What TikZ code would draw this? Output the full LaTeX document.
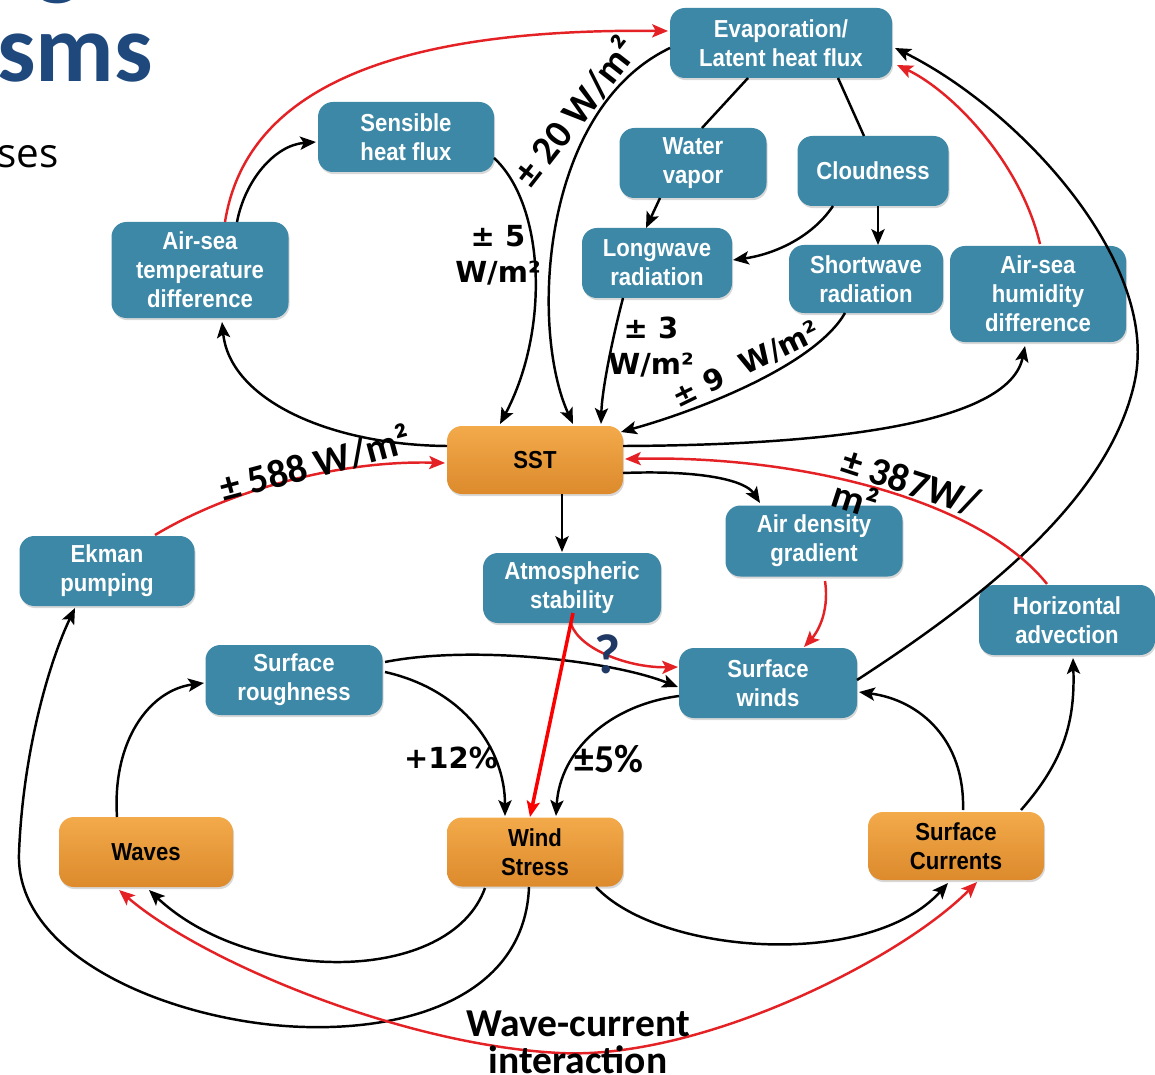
\documentclass[tikz,border=0pt]{standalone}
\usepackage{fontspec}
\usetikzlibrary{arrows.meta,calc,shadows}
\newfontfamily\boxfont[FakeStretch=0.9]{Liberation Sans}
\newfontfamily\dvfont{DejaVu Sans}
\newfontfamily\cbfont{Carlito}
\newfontfamily\osfont{Open Sans}
\newcommand{\boxtext}{\boxfont\bfseries\fontsize{14}{16.4}\selectfont}
\newcommand{\dvlabel}{\dvfont\bfseries\fontsize{16.5}{20.4}\selectfont}
\newcommand{\cblabel}{\cbfont\bfseries\fontsize{22.5}{18.5}\selectfont}
\definecolor{boxblue}{RGB}{60,136,166}
\definecolor{edgered}{RGB}{228,34,38}
\definecolor{pured}{RGB}{250,0,0}
\definecolor{titleblue}{RGB}{31,73,125}
\definecolor{qblue}{RGB}{31,56,100}
\definecolor{orangetop}{RGB}{243,170,74}
\definecolor{orangebot}{RGB}{220,138,44}
\tikzset{
  >={Stealth[length=9pt,width=7.5pt,inset=2pt]},
  sz/.style 2 args={minimum width=#1*0.02cm, minimum height=#2*0.02cm},
  bx/.style={rounded corners=8.5pt, fill=boxblue, text=white, font=\boxtext, align=center, inner sep=0pt,
     drop shadow={shadow xshift=0.6pt, shadow yshift=-1.2pt, opacity=0.3}},
  ob/.style={rounded corners=8.5pt, top color=orangetop, bottom color=orangebot, text=black, font=\boxtext, align=center, inner sep=0pt,
     drop shadow={shadow xshift=0.6pt, shadow yshift=-1.2pt, opacity=0.3}},
  arr/.style={line width=1.4pt, ->},
  rarr/.style={line width=1.4pt, ->, draw=edgered},
  plainln/.style={line width=1.4pt},
  lbld/.style={font=\dvlabel, inner sep=0pt, text=black},
  lblc/.style={font=\cblabel, inner sep=0pt, text=black},
}
\begin{document}
\begin{tikzpicture}[x=0.02cm,y=-0.02cm]
\useasboundingbox (0,0) rectangle (1155,1074);
\clip (0,0) rectangle (1155,1074);
\fill[white] (0,0) rectangle (1155,1074);

% title fragments
\node[anchor=base west, inner sep=0pt, text=titleblue, font=\cbfont\bfseries\fontsize{55}{56}\selectfont] (ttlg) at (35,-12) {g};
\node[anchor=base west, inner sep=0pt, text=titleblue, font=\cbfont\bfseries\fontsize{55}{56}\selectfont] (ttl) at (-3,82) {sms};
\node[anchor=base west, inner sep=0pt, text=black, font=\osfont\fontsize{23}{26}\selectfont] (sub) at (-3,168) {ses};

% nodes
\node[bx, sz={222}{70}] (evap) at (781,43) {Evaporation/\\Latent heat flux};
\node[bx, sz={176}{70}] (sens) at (406,137) {Sensible\\heat flux};
\node[bx, sz={147}{70}] (water) at (693,163) {Water\\vapor};
\node[bx, sz={151}{70}] (cloud) at (873,171) {Cloudness};
\node[bx, sz={177}{96}] (atd) at (200,270) {Air-sea\\temperature\\difference};
\node[bx, sz={150}{70}] (lw) at (657,263) {Longwave\\radiation};
\node[bx, sz={154}{68}] (sw) at (866,279) {Shortwave\\radiation};
\node[bx, sz={176}{96}] (ahd) at (1038,294) {Air-sea\\humidity\\difference};
\node[ob, sz={176}{68}] (sst) at (535,460) {SST};
\node[bx, sz={175}{70}] (ekman) at (107,571) {Ekman\\pumping};
\node[bx, sz={178}{70}] (atm) at (572,588) {Atmospheric\\stability};
\node[bx, sz={177}{71}] (adg) at (814,541) {Air density\\gradient};
\node[bx, sz={176}{70}] (hadv) at (1067,620) {Horizontal\\advection};
\node[bx, sz={177}{70}] (rough) at (294,680) {Surface\\roughness};
\node[bx, sz={178}{70}] (winds) at (768,683) {Surface\\winds};
\node[ob, sz={174}{70}] (waves) at (146,852) {Waves};
\node[ob, sz={176}{69}] (stress) at (535,852) {Wind\\Stress};
\node[ob, sz={176}{68}] (curr) at (956,846) {Surface\\Currents};

% black connectors
\draw[arr] ($(evap)+(-111,5)$) .. controls (540,110) and (530,330) .. ($(sst)+(38,-36)$);
\draw[arr] ($(sens)+(88,21)$) .. controls (545,205) and (550,330) .. ($(sst)+(-35,-36)$);
\draw[arr] ($(atd)+(37,-48)$) .. controls (245,180) and (275,145) .. ($(sens)+(-90,5)$);
\draw[arr] ($(sst)+(-88,-14)$) .. controls (330,445) and (230,400) .. ($(atd)+(22,52)$);
\draw[plainln] ($(evap)+(-33,35)$) -- ($(water)+(9,-35)$);
\draw[plainln] ($(evap)+(57,35)$) -- ($(cloud)+(-9,-35)$);
\draw[arr] ($(water)+(-33,35)$) -- ($(lw)+(-11,-35)$);
\draw[arr] ($(cloud)+(-40,35)$) .. controls (810,240) and (770,255) .. ($(lw)+(76,-3)$);
\draw[arr] ($(cloud)+(5,35)$) -- ($(sw)+(12,-34)$);
\draw[arr] ($(lw)+(-34,35)$) .. controls (612,340) and (602,390) .. ($(sst)+(66,-36)$);
\draw[arr] ($(sw)+(-21,34)$) .. controls (815,365) and (700,410) .. ($(sst)+(86,-28)$);
\draw[arr] ($(sst)+(88,-14)$) .. controls (850,445) and (1010,420) .. ($(ahd)+(-13,52)$);
\draw[arr] ($(winds)+(89,-3)$) .. controls (980,600) and (1110,500) .. (1135,380) .. controls (1159,262) and (1020,110) .. ($(evap)+(114,5)$);
\draw[arr] ($(sst)+(88,13)$) .. controls (700,470) and (745,480) .. ($(adg)+(-54,-38)$);
\draw[arr] ($(sst)+(27,34)$) -- ($(atm)+(-10,-36)$);
\draw[arr] ($(rough)+(91,-18)$) .. controls (470,645) and (610,660) .. ($(winds)+(-90,4)$);
\draw[arr] ($(rough)+(91,-8)$) .. controls (465,690) and (505,750) .. ($(stress)+(-30,-36)$);
\draw[arr] ($(winds)+(-89,13)$) .. controls (610,705) and (560,750) .. ($(stress)+(21,-36)$);
\draw[arr] ($(waves)+(-29,-35)$) .. controls (112,740) and (150,690) .. ($(rough)+(-90,3)$);
\draw[arr] ($(stress)+(-50,36)$) .. controls (450,985) and (250,985) .. ($(waves)+(3,38)$);
\draw[arr] ($(stress)+(-6,35)$) .. controls (525,990) and (420,1030) .. (306,1027) .. controls (180,1024) and (15,960) .. (19,853) .. controls (23,750) and (50,660) .. ($(ekman)+(-32,37)$);
\draw[arr] ($(stress)+(61,35)$) .. controls (660,955) and (870,970) .. ($(curr)+(-8,37)$);
\draw[arr] ($(curr)+(7,-36)$) .. controls (965,740) and (920,700) .. ($(winds)+(91,9)$);
\draw[arr] ($(curr)+(65,-36)$) .. controls (1065,760) and (1075,720) .. ($(hadv)+(6,38)$);

% red connectors
\draw[rarr] ($(atd)+(25,-48)$) .. controls (245,95) and (380,28) .. ($(evap)+(-113,-12)$);
\draw[rarr] ($(ahd)+(2,-50)$) .. controls (1020,160) and (950,90) .. ($(evap)+(116,22)$);
\draw[rarr] ($(ekman)+(48,-36)$) .. controls (230,490) and (340,460) .. ($(sst)+(-90,3)$);
\draw[rarr] ($(hadv)+(-20,-36)$) .. controls (980,500) and (800,455) .. ($(sst)+(90,-1)$);
\draw[rarr] ($(adg)+(11,40)$) .. controls (830,615) and (815,635) .. ($(winds)+(36,-36)$);
\draw[rarr] ($(atm)+(-1,36)$) .. controls (580,650) and (630,668) .. ($(winds)+(-90,-16)$);
\draw[rarr, draw=pured, line width=2pt] ($(atm)+(1,25)$) -- ($(stress)+(-5,-35)$);
\draw[rarr, <->] ($(waves)+(-27,38)$) .. controls (200,960) and (400,1045) .. (560,1053) .. controls (700,1060) and (900,960) .. ($(curr)+(21,36)$);

% labels
\node[lblc, rotate=52] (l20) at (575,111) {± 20 W/m²};
\node[lbld, align=center] (l5) at (498,255) {± 5\\W/m²};
\node[lbld, align=center] (l3) at (651,347) {± 3\\W/m²};
\node[lbld, rotate=26] (l9) at (746,365) {± 9\ \ W/m²};
\node[lblc, rotate=15] (l588) at (315,463) {± 588 W/m²};
\node[lblc, rotate=-18, align=left, anchor=north west] (l387) at (848,446) {± 387W/\\m²};
\node[lbld] (l12) at (451,758) {+12\%};
\node[lblc] (l5p) at (609,759) {±5\%};
\node[text=qblue, inner sep=0pt, font=\cbfont\bfseries\fontsize{32}{32}\selectfont] (q) at (608,654) {?};
\node[lblc, align=center, anchor=north, font=\cbfont\bfseries\fontsize{22.5}{21}\selectfont] (wci) at (578,1011) {Wave-current\\interaction};
\end{tikzpicture}
\end{document}
